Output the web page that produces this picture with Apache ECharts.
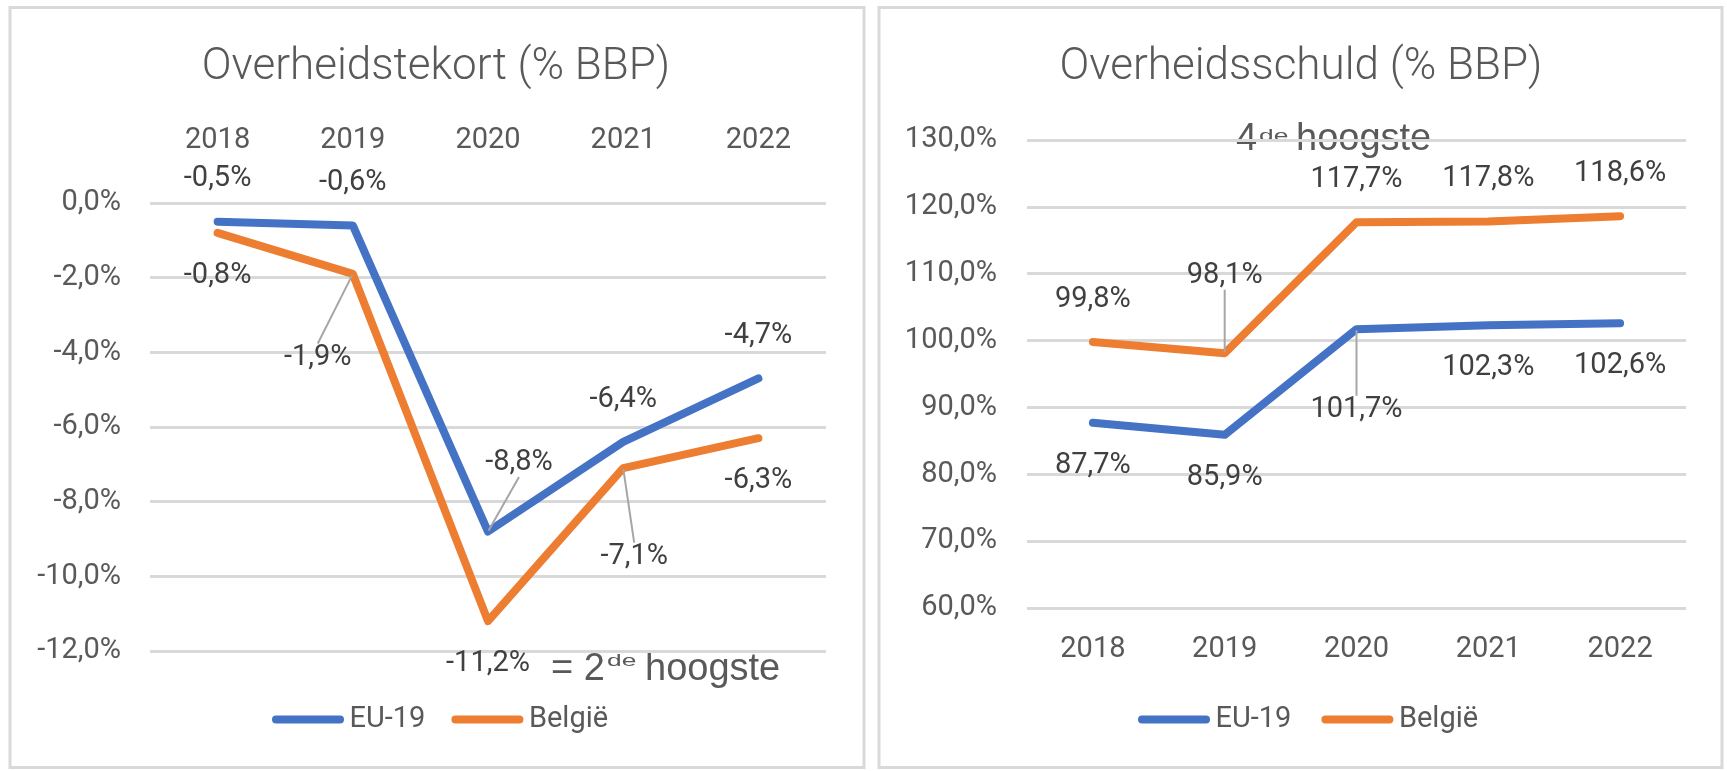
<!DOCTYPE html>
<html><head><meta charset="utf-8">
<script src="https://cdn.jsdelivr.net/npm/echarts@6/dist/echarts.min.js"></script>
<style>html,body{margin:0;padding:0;background:#fff}#c{width:1727px;height:771px}</style>
</head><body><div id="c"></div>
<script>
// ---- data ----
const years = ['2018', '2019', '2020', '2021', '2022'];
const deficitEU = [-0.5, -0.6, -8.8, -6.4, -4.7];
const deficitBE = [-0.8, -1.9, -11.2, -7.1, -6.3];
const debtEU = [87.7, 85.9, 101.7, 102.3, 102.6];
const debtBE = [99.8, 98.1, 117.7, 117.8, 118.6];
const seriesNames = ['EU-19', 'België'];
const titles = ['Overheidstekort (% BBP)', 'Overheidsschuld (% BBP)'];

// ---- styling ----
const BLUE = '#4472C4', ORANGE = '#ED7D31';
const AXIS_TXT = '#595959', LBL_TXT = '#404040', GRID = '#d9d9d9';
const FONT = 'Roboto, "Open Sans", sans-serif';
const ARIAL = '"Liberation Sans", Arial, sans-serif';
const FS = 29;
const fmt = v => v.toFixed(1).replace('.', ',') + '%';

// label placement per point: 'top' / 'bottom' or leader offset [dx, dy] from point
const placeDefEU = ['top', 'top', [31, -69], 'top', 'top'];
const placeDefBE = ['bottom', [-35, 84], 'bottom', [11, 89], 'bottom'];
const placeDebtEU = ['bottom', 'bottom', [0, 81], 'bottom', 'bottom'];
const placeDebtBE = ['top', [0, -78], 'top', 'top', 'top'];

function items(values, places) {
  return values.map((v, i) => {
    const p = places[i];
    if (typeof p === 'string') {
      return { value: v, label: { position: p } };
    }
    return { value: v, label: { position: 'inside' }, labelLine: { show: true } };
  });
}

function lineSeries(name, color, values, places, axisIdx) {
  return {
    type: 'line', name: name,
    xAxisIndex: axisIdx, yAxisIndex: axisIdx,
    data: items(values, places),
    symbol: 'circle', symbolSize: 2, showSymbol: true,
    lineStyle: { color: color, width: 8, cap: 'round', join: 'round' },
    itemStyle: { color: color },
    label: {
      show: true, distance: 27, formatter: p => fmt(p.value),
      fontSize: FS, color: LBL_TXT, fontFamily: FONT
    },
    labelLine: { show: false, lineStyle: { color: '#a6a6a6', width: 2 } },
    labelLayout: function (params) {
      const p = places[params.dataIndex];
      if (Array.isArray(p)) return { dx: p[0], dy: p[1] };
      return {};
    },
    emphasis: { disabled: true },
    z: name === 'België' ? 3 : 2
  };
}

const legendIcon = 'path://M4,0 L68,0 A4,4 0 0 1 68,8 L4,8 A4,4 0 0 1 4,0 Z';
function legend(left, gap) {
  return {
    left: left, top: 705, orient: 'horizontal', padding: 0,
    itemWidth: 73, itemHeight: 8, itemGap: gap, icon: legendIcon,
    selectedMode: false, data: seriesNames,
    textStyle: { fontSize: FS, color: AXIS_TXT, fontFamily: FONT }
  };
}

function annoText(x, y, text, size, sx) {
  return { type: 'text', x: x, y: y, scaleX: sx || 1,
    style: { text: text, fontSize: size, fontFamily: ARIAL, fill: AXIS_TXT, align: 'left', verticalAlign: 'middle' } };
}

const option = {
  animation: false,
  backgroundColor: '#ffffff',
  grid: [
    { left: 150, top: 203, width: 676, height: 448 },
    { left: 1027, top: 140, width: 659, height: 468 }
  ],
  xAxis: [
    { gridIndex: 0, type: 'category', data: years, position: 'top', boundaryGap: true,
      axisLine: { show: false }, axisTick: { show: false },
      axisLabel: { margin: 48, fontSize: FS, color: AXIS_TXT, fontFamily: FONT } },
    { gridIndex: 1, type: 'category', data: years, position: 'bottom', boundaryGap: true,
      axisLine: { show: false }, axisTick: { show: false },
      axisLabel: { margin: 27, fontSize: FS, color: AXIS_TXT, fontFamily: FONT } }
  ],
  yAxis: [
    { gridIndex: 0, type: 'value', min: -12, max: 0, interval: 2,
      axisLine: { show: false }, axisTick: { show: false },
      axisLabel: { margin: 29, fontSize: FS, color: AXIS_TXT, fontFamily: FONT, formatter: v => fmt(v) },
      splitLine: { lineStyle: { color: GRID, width: 3 } } },
    { gridIndex: 1, type: 'value', min: 60, max: 130, interval: 10,
      axisLine: { show: false }, axisTick: { show: false },
      axisLabel: { margin: 30, fontSize: FS, color: AXIS_TXT, fontFamily: FONT, formatter: v => fmt(v) },
      splitLine: { lineStyle: { color: GRID, width: 3 } } }
  ],
  legend: [legend(272, 26), legend(1138, 30)],
  series: [
    lineSeries(seriesNames[0], BLUE, deficitEU, placeDefEU, 0),
    lineSeries(seriesNames[1], ORANGE, deficitBE, placeDefBE, 0),
    lineSeries(seriesNames[0], BLUE, debtEU, placeDebtEU, 1),
    lineSeries(seriesNames[1], ORANGE, debtBE, placeDebtBE, 1)
  ],
  graphic: [
    { type: 'rect', shape: { x: 10, y: 7.5, width: 854, height: 760 }, style: { fill: 'none', stroke: GRID, lineWidth: 3 }, z: -1 },
    { type: 'rect', shape: { x: 879, y: 7.5, width: 843, height: 760 }, style: { fill: 'none', stroke: GRID, lineWidth: 3 }, z: -1 },
    { type: 'text', x: 436, y: 68, style: { text: titles[0], fontSize: 44, fontWeight: 300, fontFamily: FONT, fill: AXIS_TXT, align: 'center', verticalAlign: 'middle' } },
    { type: 'text', x: 1301, y: 68, style: { text: titles[1], fontSize: 44, fontWeight: 300, fontFamily: FONT, fill: AXIS_TXT, align: 'center', verticalAlign: 'middle' } },
    // "= 2de hoogste" next to the -11,2% label
    annoText(551, 670, '= 2', 38),
    annoText(607, 661.5, 'de', 17, 1.55),
    annoText(645, 670, 'hoogste', 38),
    // "4de hoogste" above the debt chart
    annoText(1236, 140, '4', 38),
    annoText(1259, 136, 'de', 17, 1.55),
    annoText(1296, 140, 'hoogste', 38)
  ]
};

const chart = echarts.init(document.getElementById('c'), null, { renderer: 'canvas' });
chart.setOption(option);
</script>
</body></html>
